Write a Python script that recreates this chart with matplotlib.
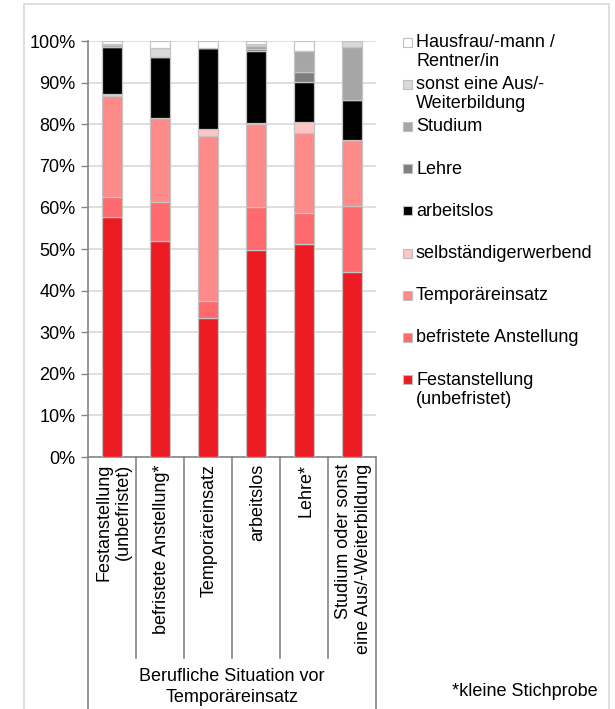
import numpy as np
import matplotlib.pyplot as plt
from matplotlib.patches import Rectangle
from matplotlib.lines import Line2D

plt.rcParams['font.family'] = ['Liberation Sans', 'DejaVu Sans']

# situation before the temp job (x axis)
categories = ['Festanstellung\n(unbefristet)', 'befristete Anstellung*', 'Temporäreinsatz',
              'arbeitslos', 'Lehre*', 'Studium oder sonst\neine Aus/-Weiterbildung']

# situation afterwards, stacked bottom to top (percent)
festanstellung = [57.8, 51.9, 33.3, 49.8, 51.2, 44.5]
befristet      = [4.8, 9.3, 4.2, 10.4, 7.4, 15.8]
temporaer      = [24.2, 20.4, 39.7, 19.8, 19.4, 15.9]
selbstaendig   = [0.5, 0.0, 1.6, 0.2, 2.5, 0.0]
arbeitslos     = [11.3, 14.6, 19.6, 17.5, 9.7, 9.5]
lehre          = [0.0, 0.0, 0.0, 0.3, 2.4, 0.0]
studium        = [0.4, 0.0, 0.0, 0.7, 5.1, 12.8]
sonst_ausbild  = [0.3, 2.1, 0.0, 0.5, 0.0, 1.5]
hausfrau       = [0.7, 1.7, 1.6, 0.8, 2.3, 0.0]

series = [festanstellung, befristet, temporaer, selbstaendig, arbeitslos,
          lehre, studium, sonst_ausbild, hausfrau]
series_names = ['Festanstellung\n(unbefristet)', 'befristete Anstellung', 'Temporäreinsatz',
                'selbständigerwerbend', 'arbeitslos', 'Lehre', 'Studium',
                'sonst eine Aus/-\nWeiterbildung', 'Hausfrau/-mann /\nRentner/in']
colors = ['#ED1C24', '#FF6A6E', '#FF8A8A', '#FFC4C4', '#000000',
          '#7F7F7F', '#A6A6A6', '#D9D9D9', '#FFFFFF']

W, H = 615, 709
fig = plt.figure(figsize=(W / 100, H / 100), dpi=100)

def fx(px):
    return px / W

def fy(py):
    return 1 - py / H

ax = fig.add_axes([fx(88), fy(457), fx(376) - fx(88), fy(41) - fy(457)])

x = np.arange(len(categories))
bottom = np.zeros(len(categories))
for vals, c in zip(series, colors):
    ax.bar(x, vals, 0.4, bottom=bottom, color=c, edgecolor='#C4C4C4', linewidth=0.9, zorder=3)
    bottom += np.array(vals)

ax.set_xlim(-0.5, len(categories) - 0.5)
ax.set_ylim(0, 100)
ax.set_yticks(np.arange(0, 101, 10))
ax.set_yticklabels(['%d%%' % v for v in range(0, 101, 10)], fontsize=13)
ax.set_xticks([])
ax.grid(axis='y', color='#D9D9D9', linewidth=1.2, zorder=0)
ax.tick_params(axis='y', length=5, color='#868686', width=1, pad=4)
for s in ['top', 'right']:
    ax.spines[s].set_visible(False)
for s in ['left', 'bottom']:
    ax.spines[s].set_color('#868686')
    ax.spines[s].set_linewidth(1.2)

# category labels in boxes under the axis
edges = [88 + 48 * i for i in range(len(categories) + 1)]
for i, lab in enumerate(categories):
    cx = (edges[i] + edges[i + 1]) / 2 + 1.5
    fig.text(fx(cx), fy(464), lab, rotation=90, ha='center', va='top',
             multialignment='right', fontsize=13)
for i, ex in enumerate(edges):
    end = 709 if i in (0, len(edges) - 1) else 658
    fig.add_artist(Line2D([fx(ex), fx(ex)], [fy(457), fy(end)], color='#868686', lw=1.2))

fig.text(fx(232), fy(668), 'Berufliche Situation vor\nTemporäreinsatz', ha='center', va='top',
         fontsize=13, linespacing=1.3)
fig.text(fx(598), fy(692), '*kleine Stichprobe', ha='right', va='center', fontsize=13)

# legend, top entry first
for i, (name, c) in enumerate(zip(series_names[::-1], colors[::-1])):
    yc = 42 + 42.2 * i
    fig.add_artist(Rectangle((fx(403), fy(yc + 4.5)), fx(9), 9 / H, facecolor=c,
                             edgecolor='#BFBFBF', linewidth=0.8))
    fig.text(fx(416), fy(yc - 8), name, ha='left', va='top', fontsize=13, linespacing=1.15)

# outer frame
fig.add_artist(Rectangle((fx(24), -0.01), fx(609) - fx(24), fy(4) + 0.01, fill=False,
                         edgecolor='#D9D9D9', linewidth=1.2))

fig.savefig('out.png', dpi=100)
